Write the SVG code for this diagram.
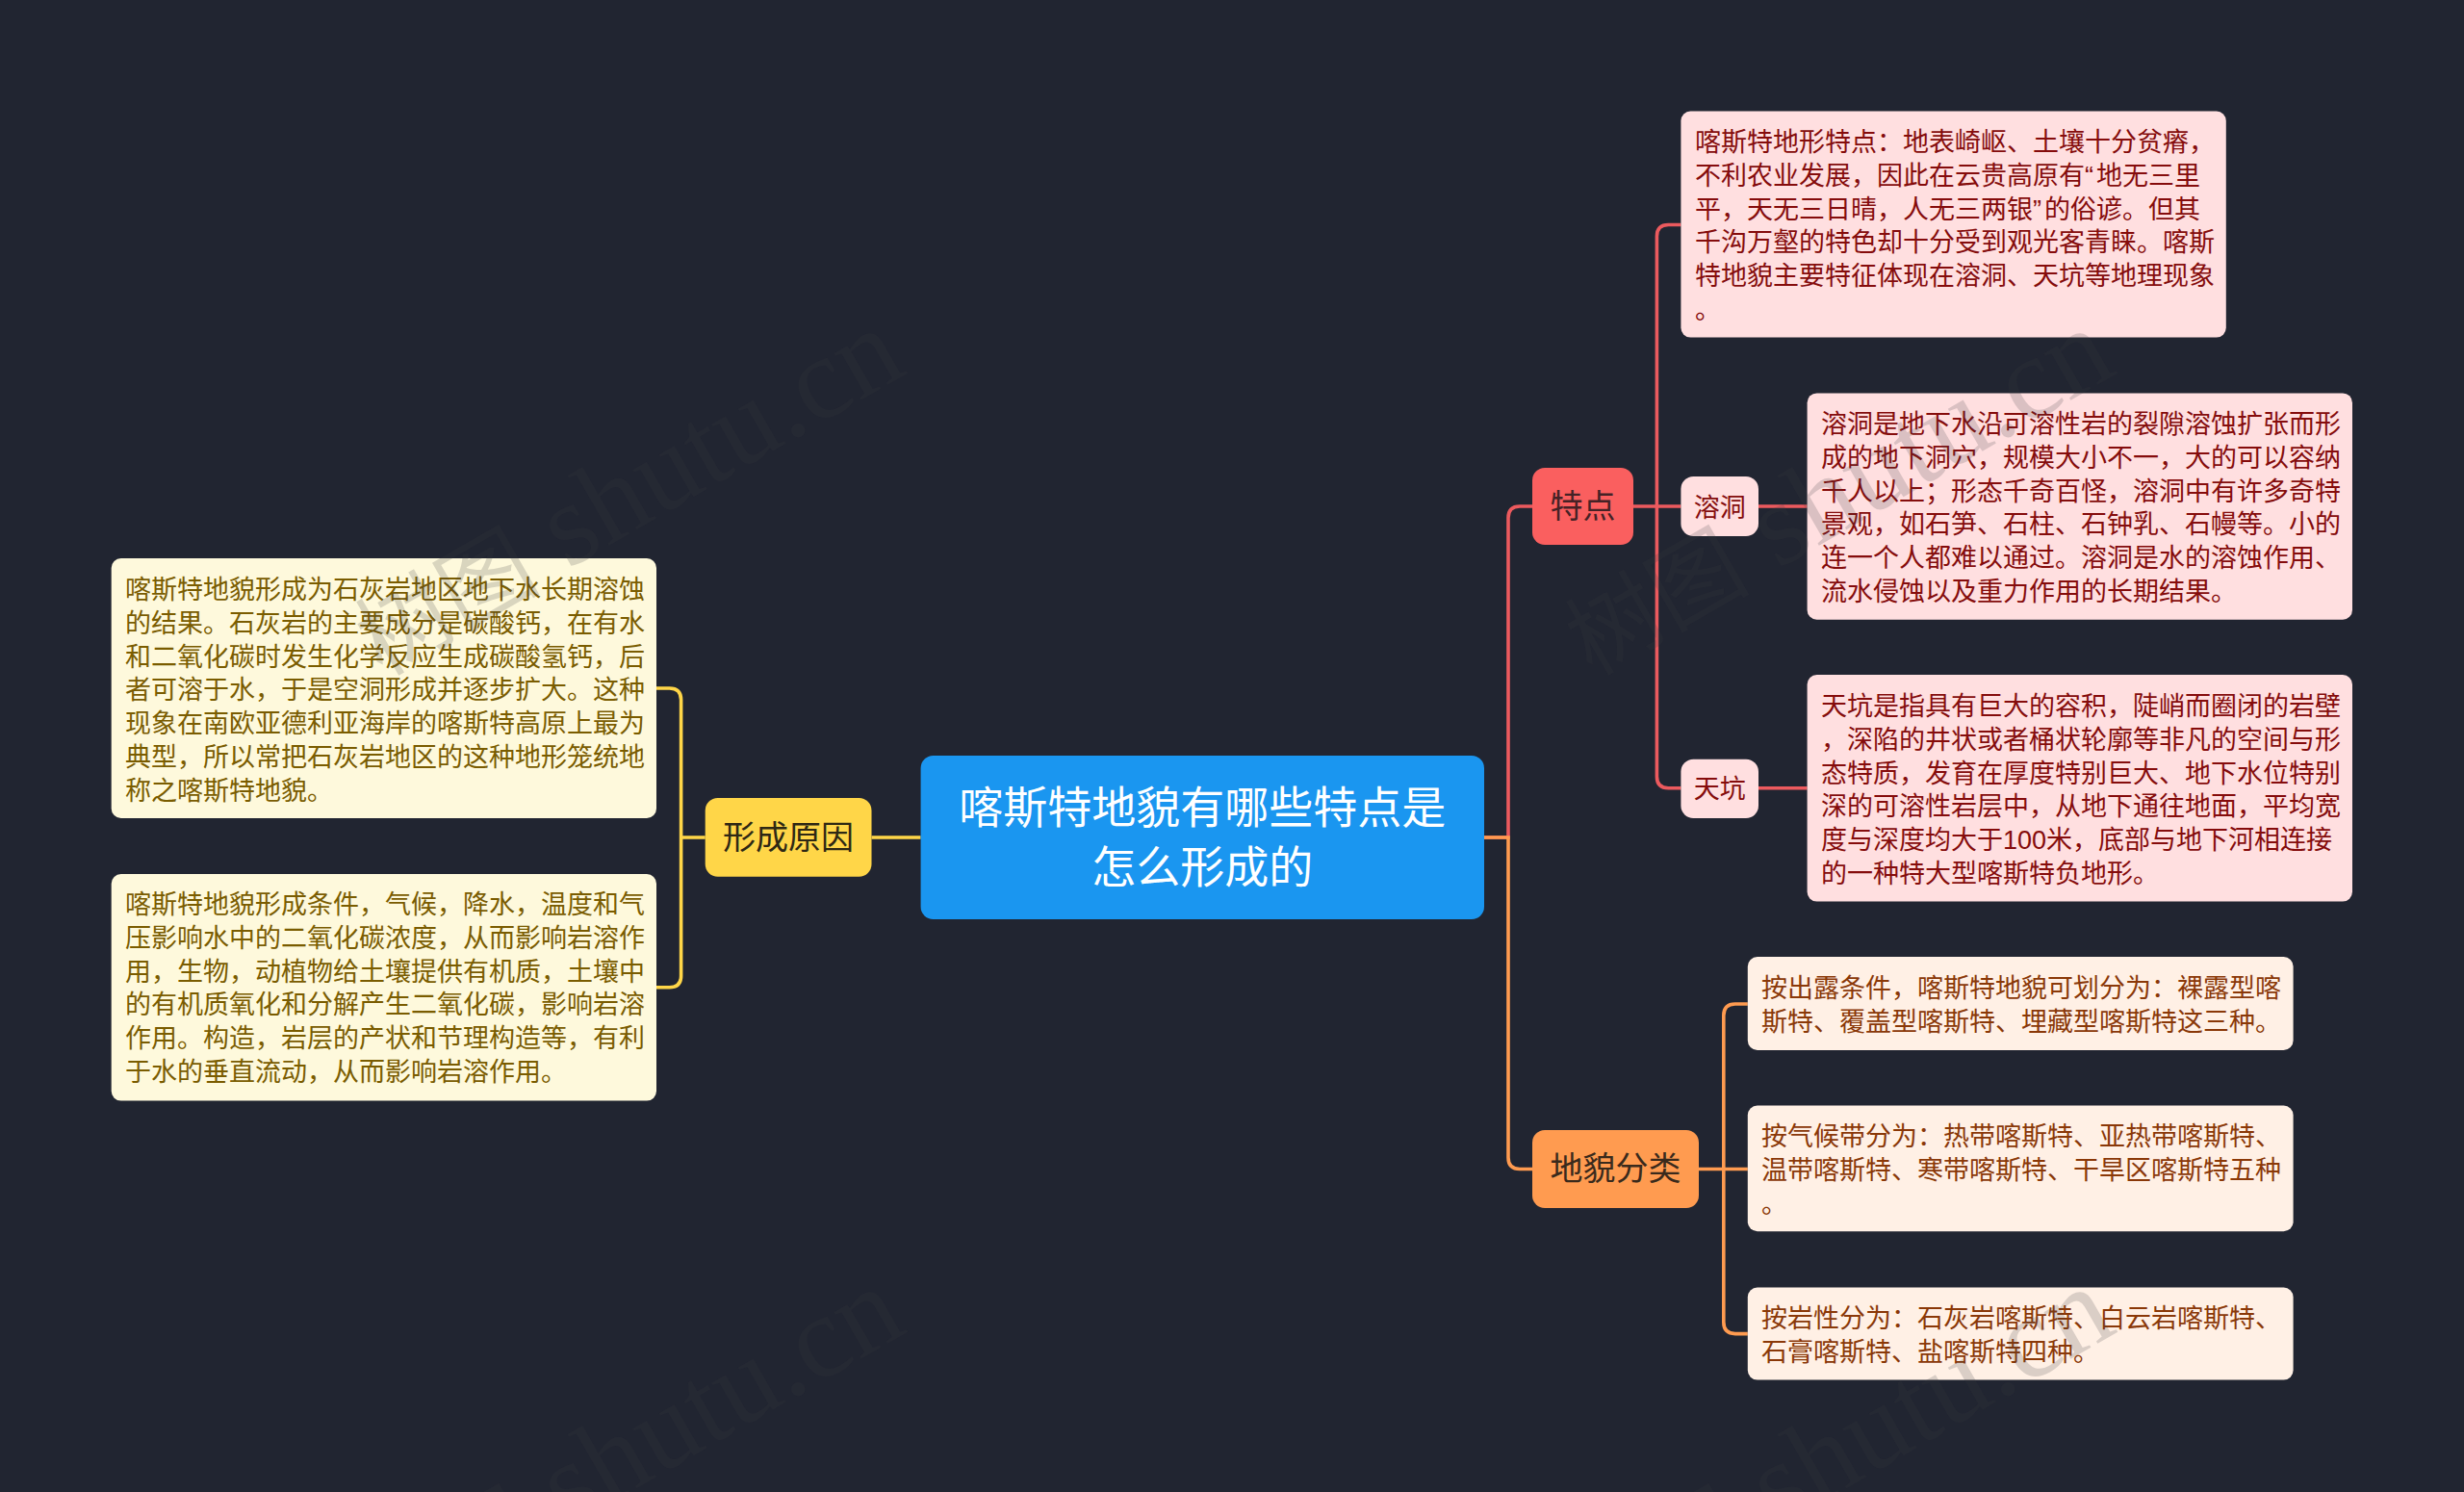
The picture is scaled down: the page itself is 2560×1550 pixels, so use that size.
<svg xmlns="http://www.w3.org/2000/svg" width="2560" height="1550" viewBox="0 0 2560 1550">
<style>
text{font-family:"Liberation Sans","Noto Sans CJK SC",sans-serif}
.b{font-size:27px}
.con{fill:none;stroke-width:3.6}
.r{fill:#850c0c}.o{fill:#8a3808}.y{fill:#7a5c00}
.wm{font-family:"Liberation Serif","Noto Sans CJK SC",serif;font-size:122px;fill:#3b3d40;fill-opacity:.19}
.wc{font-size:96px}
</style>
<rect width="2560" height="1550" fill="#212531"/>
<g id="connectors">
<path class="con" stroke="#ffd648" d="M905.5 870H956.6M732.7 870H707.6M682 715H695.6Q707.6 715 707.6 727V1013.7Q707.6 1025.7 695.6 1025.7H682"/>
<path class="con" stroke="#ec5a5e" d="M1542 870H1567V538Q1567 526 1579 526H1592M1697 526H1746.4M1827 526H1877.6M1746.4 233.5H1733.4Q1721.4 233.5 1721.4 245.5V806.8Q1721.4 818.8 1733.4 818.8H1746.4M1827 818.8H1877.6"/>
<path class="con" stroke="#ff9b50" d="M1542 870H1567V1202.5Q1567 1214.5 1579 1214.5H1592M1765 1214.5H1815.8M1815.8 1043H1802.8Q1790.8 1043 1790.8 1055V1373.6Q1790.8 1385.6 1802.8 1385.6H1815.8"/>
</g>
<g id="center"><rect x="956.6" y="785" width="585.4" height="170" rx="13" fill="#1a96f0"/>
<text x="1249.3" y="855" text-anchor="middle" font-size="46" fill="#fff">喀斯特地貌有哪些特点是</text>
<text x="1249.3" y="917" text-anchor="middle" font-size="46" fill="#fff">怎么形成的</text></g>
<g id="n-yuanyin"><rect x="732.7" y="829" width="172.8" height="81.7" rx="13" fill="#ffd648"/><text x="819" y="882" text-anchor="middle" font-size="34" fill="#2e2814">形成原因</text></g>
<g id="n-tedian"><rect x="1592" y="486" width="105" height="80" rx="13" fill="#fa5f5f"/><text x="1644.5" y="538" text-anchor="middle" font-size="34" fill="#452226">特点</text></g>
<g id="n-fenlei"><rect x="1592" y="1174" width="173" height="81" rx="13" fill="#ff9b50"/><text x="1678.5" y="1226" text-anchor="middle" font-size="34" fill="#3a2a1c">地貌分类</text></g>
<g id="n-rongdong"><rect x="1746.4" y="495" width="80.6" height="62" rx="13" fill="#ffdfe0"/><text x="1786.7" y="537" text-anchor="middle" class="b r">溶洞</text></g>
<g id="n-tiankeng"><rect x="1746.4" y="788.7" width="80.6" height="61.3" rx="13" fill="#ffdfe0"/><text x="1786.7" y="829" text-anchor="middle" class="b r">天坑</text></g>
<g id="d-1"><rect x="1746.4" y="115.6" width="566.4" height="235" rx="10" fill="#ffdfe0"/>
<text class="b r" x="1761"><tspan x="1761" y="157">喀斯特地形特点：地表崎岖、土壤十分贫瘠，</tspan><tspan x="1761" dy="34.8">不利农业发展，因此在云贵高原有“<tspan dx="3">地无三里</tspan></tspan><tspan x="1761" dy="34.8">平，天无三日晴，人无三两银”<tspan dx="3">的俗谚。但其</tspan></tspan><tspan x="1761" dy="34.8">千沟万壑的特色却十分受到观光客青睐。喀斯</tspan><tspan x="1761" dy="34.8">特地貌主要特征体现在溶洞、天坑等地理现象</tspan><tspan x="1761" dy="34.8">。</tspan></text></g>
<g id="d-2"><rect x="1877.6" y="408.4" width="566.4" height="235.4" rx="10" fill="#ffdfe0"/>
<text class="b r"><tspan x="1892" y="450">溶洞是地下水沿可溶性岩的裂隙溶蚀扩张而形</tspan><tspan x="1892" dy="34.8">成的地下洞穴，规模大小不一，大的可以容纳</tspan><tspan x="1892" dy="34.8">千人以上；形态千奇百怪，溶洞中有许多奇特</tspan><tspan x="1892" dy="34.8">景观，如石笋、石柱、石钟乳、石幔等。小的</tspan><tspan x="1892" dy="34.8">连一个人都难以通过。溶洞是水的溶蚀作用、</tspan><tspan x="1892" dy="34.8">流水侵蚀以及重力作用的长期结果。</tspan></text></g>
<g id="d-3"><rect x="1877.6" y="701" width="566.4" height="235.6" rx="10" fill="#ffdfe0"/>
<text class="b r"><tspan x="1892" y="743">天坑是指具有巨大的容积，陡峭而圈闭的岩壁</tspan><tspan x="1892" dy="34.8">，深陷的井状或者桶状轮廓等非凡的空间与形</tspan><tspan x="1892" dy="34.8">态特质，发育在厚度特别巨大、地下水位特别</tspan><tspan x="1892" dy="34.8">深的可溶性岩层中，从地下通往地面，平均宽</tspan><tspan x="1892" dy="34.8">度与深度均大于100米，底部与地下河相连接</tspan><tspan x="1892" dy="34.8">的一种特大型喀斯特负地形。</tspan></text></g>
<g id="d-4"><rect x="1815.8" y="994" width="566.8" height="96.9" rx="10" fill="#fff0e5"/>
<text class="b o"><tspan x="1830" y="1036">按出露条件，喀斯特地貌可划分为：裸露型喀</tspan><tspan x="1830" dy="34.8">斯特、覆盖型喀斯特、埋藏型喀斯特这三种。</tspan></text></g>
<g id="d-5"><rect x="1815.8" y="1148.6" width="566.8" height="130.6" rx="10" fill="#fff0e5"/>
<text class="b o"><tspan x="1830" y="1190">按气候带分为：热带喀斯特、亚热带喀斯特、</tspan><tspan x="1830" dy="34.8">温带喀斯特、寒带喀斯特、干旱区喀斯特五种</tspan><tspan x="1830" dy="34.8">。</tspan></text></g>
<g id="d-6"><rect x="1815.8" y="1337.6" width="566.8" height="96" rx="10" fill="#fff0e5"/>
<text class="b o"><tspan x="1830" y="1379">按岩性分为：石灰岩喀斯特、白云岩喀斯特、</tspan><tspan x="1830" dy="34.8">石膏喀斯特、盐喀斯特四种。</tspan></text></g>
<g id="d-7"><rect x="115.7" y="580" width="566.3" height="270" rx="10" fill="#fef9dc"/>
<text class="b y"><tspan x="130" y="622">喀斯特地貌形成为石灰岩地区地下水长期溶蚀</tspan><tspan x="130" dy="34.8">的结果。石灰岩的主要成分是碳酸钙，在有水</tspan><tspan x="130" dy="34.8">和二氧化碳时发生化学反应生成碳酸氢钙，后</tspan><tspan x="130" dy="34.8">者可溶于水，于是空洞形成并逐步扩大。这种</tspan><tspan x="130" dy="34.8">现象在南欧亚德利亚海岸的喀斯特高原上最为</tspan><tspan x="130" dy="34.8">典型，所以常把石灰岩地区的这种地形笼统地</tspan><tspan x="130" dy="34.8">称之喀斯特地貌。</tspan></text></g>
<g id="d-8"><rect x="115.7" y="908" width="566.3" height="235.6" rx="10" fill="#fef9dc"/>
<text class="b y"><tspan x="130" y="949">喀斯特地貌形成条件，气候，降水，温度和气</tspan><tspan x="130" dy="34.8">压影响水中的二氧化碳浓度，从而影响岩溶作</tspan><tspan x="130" dy="34.8">用，生物，动植物给土壤提供有机质，土壤中</tspan><tspan x="130" dy="34.8">的有机质氧化和分解产生二氧化碳，影响岩溶</tspan><tspan x="130" dy="34.8">作用。构造，岩层的产状和节理构造等，有利</tspan><tspan x="130" dy="34.8">于水的垂直流动，从而影响岩溶作用。</tspan></text></g>
<g id="watermarks">
<text class="wm" transform="translate(397 703) rotate(-30)"><tspan class="wc">树图</tspan> shutu.cn</text>
<text class="wm" transform="translate(1654 703) rotate(-30)"><tspan class="wc">树图</tspan> shutu.cn</text>
<text class="wm" transform="translate(397 1699) rotate(-30)"><tspan class="wc">树图</tspan> shutu.cn</text>
<text class="wm" transform="translate(1654 1699) rotate(-30)"><tspan class="wc">树图</tspan> shutu.cn</text>
</g>
</svg>
